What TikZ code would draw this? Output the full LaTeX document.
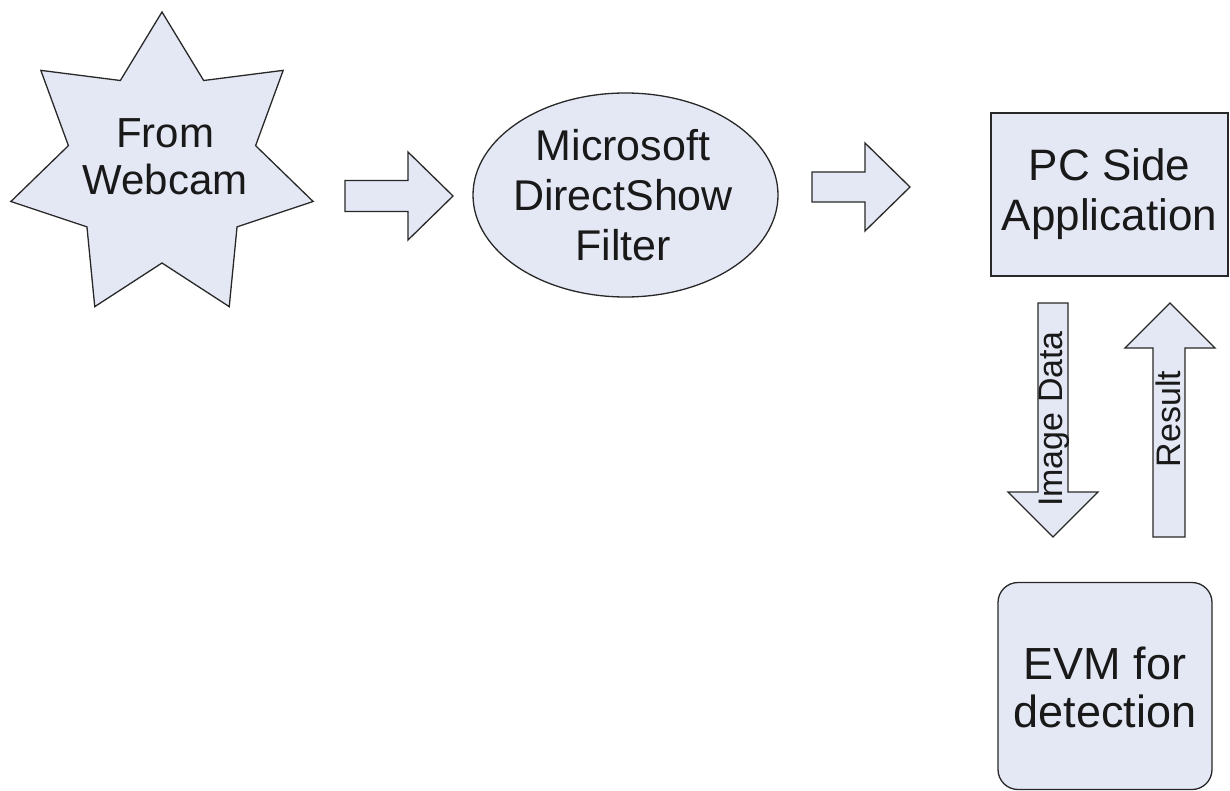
\documentclass[tikz,border=0pt]{standalone}
\usepackage{fontspec}
\setmainfont{Liberation Sans}
\definecolor{shapefill}{RGB}{228,232,245}
\definecolor{shapeline}{RGB}{40,40,40}
\definecolor{txtcol}{RGB}{25,25,25}
\tikzset{
  shp/.style={draw=shapeline, fill=shapefill, line width=1.3pt, line join=miter},
  lbl/.style={text=txtcol, align=center, inner sep=0pt, font=\fontsize{43}{50}\selectfont},
  vlbl/.style={text=txtcol, inner sep=0pt, rotate=90, font=\fontsize{34}{40}\selectfont},
}
\begin{document}
\begin{tikzpicture}[x=1pt, y=-1pt]
\useasboundingbox (0,0) rectangle (1230,791);
% star (From Webcam)
\draw[shp, shift={(162,167)}] (270:155)
  \foreach \i in {0,...,6}{ -- ({270+\i*360/7+360/14}:96) -- ({270+(\i+1)*360/7}:155) } -- cycle;
\node[lbl, font=\fontsize{42}{47}\selectfont] (webcam) at (165,157) {From\\Webcam};
% block arrow 1
\draw[shp] (345,180.5) -- (408,180.5) -- (408,152) -- (453,196) -- (408,240) -- (408,211.5) -- (345,211.5) -- cycle;
% ellipse (filter)
\coordinate (fc) at (625.5,195);
\draw[shp] (fc) ellipse [x radius=152.5, y radius=102];
\node[lbl] (filter) at (623,195) {Microsoft\\DirectShow\\Filter};
% block arrow 2
\draw[shp] (812,172) -- (865,172) -- (865,143) -- (910,187) -- (865,231) -- (865,202) -- (812,202) -- cycle;
% PC side application
\node[shp, minimum width=237pt, minimum height=163pt, inner sep=0pt] (pc) at (1109.5,194.5) {};
\node[lbl, font=\fontsize{44}{50}\selectfont] (pctext) at (pc.center) {PC Side\\Application};
% down arrow (Image Data)
\draw[shp] (1038,303) -- (1068,303) -- (1068,492) -- (1098,492) -- (1053,537) -- (1008,492) -- (1038,492) -- cycle;
\node[vlbl] (imgdata) at (1054,419) {Image Data};
% up arrow (Result)
\draw[shp] (1170,303) -- (1215,348) -- (1185,348) -- (1185,537) -- (1153,537) -- (1153,348) -- (1125,348) -- cycle;
\node[vlbl] (result) at (1168.5,419) {Result};
% EVM box
\node[shp, rounded corners=20pt, minimum width=214pt, minimum height=207pt, inner sep=0pt] (evm) at (1105,686) {};
\node[lbl, font=\fontsize{45}{48}\selectfont] (evmtext) at (1105,687) {EVM for\\detection};
\end{tikzpicture}
\end{document}
